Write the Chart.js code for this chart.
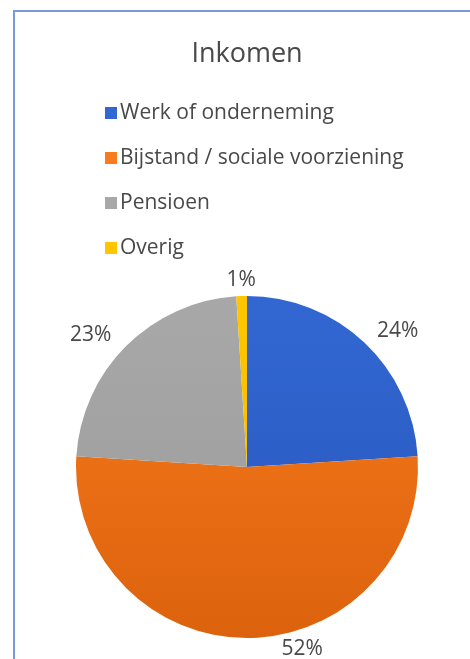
<!DOCTYPE html>
<html>
<head>
<meta charset="utf-8">
<script src="https://cdn.jsdelivr.net/npm/chart.js@4"></script>
<style>
  html, body { margin: 0; padding: 0; background: #fff; overflow: hidden; }
  .frame {
    position: absolute; left: 13px; top: 10px;
    width: 600px; height: 800px;
    border: 2px solid #7899da;
  }
  #chart { position: absolute; left: 0; top: 0; }
</style>
</head>
<body>
<div class="frame"></div>
<canvas id="chart" width="470" height="659"></canvas>
<script>
const title = "Inkomen";
const categories = [
	"Werk of onderneming",
	"Bijstand / sociale voorziening",
	"Pensioen",
	"Overig",
];
const shares = [24, 52, 23, 1];

// light / dark tone per slice, used for the soft top-down shading
const colorsLight = ["#3267d2", "#f87b1c", "#a8a8a8", "#ffc600"];
const colorsDark = ["#2856bc", "#dc620d", "#9b9b9b", "#f0b600"];

const textColor = "#494949";
const fontFamily = "'Open Sans', sans-serif";

function sliceColor(context) {
	const i = context.dataIndex;
	const area = context.chart.chartArea;
	if (!area) {
		return colorsLight[i];
	}
	const g = context.chart.ctx.createLinearGradient(0, area.top, 0, area.bottom);
	g.addColorStop(0, colorsLight[i]);
	g.addColorStop(1, colorsDark[i]);
	return g;
}

// legend as a single left-aligned column above the pie
const columnLegend = {
	id: "columnLegend",
	afterDraw(chart, args, opts) {
		const ctx = chart.ctx;
		ctx.save();
		ctx.font = opts.fontSize + "px " + fontFamily;
		ctx.textBaseline = "middle";
		ctx.textAlign = "left";
		chart.data.labels.forEach((label, i) => {
			const y = opts.top + i * opts.rowHeight;
			ctx.fillStyle = colorsLight[i];
			ctx.fillRect(opts.x, y - opts.box / 2, opts.box, opts.box);
			ctx.fillStyle = textColor;
			ctx.fillText(label, opts.x + opts.box + 3, y);
		});
		ctx.restore();
	},
};

// percentage labels just outside each slice
const outsideLabels = {
	id: "outsideLabels",
	afterDatasetsDraw(chart, args, opts) {
		const ctx = chart.ctx;
		const meta = chart.getDatasetMeta(0);
		const values = chart.data.datasets[0].data;
		ctx.save();
		ctx.font = opts.fontSize + "px " + fontFamily;
		ctx.fillStyle = textColor;
		ctx.textAlign = "center";
		ctx.textBaseline = "middle";
		meta.data.forEach((arc, i) => {
			const p = arc.getProps(["x", "y", "startAngle", "endAngle", "outerRadius"], true);
			const shift = (opts.angleShift[i] || 0) * Math.PI / 180;
			const a = (p.startAngle + p.endAngle) / 2 + shift;
			const text = values[i] + "%";
			const halfW = ctx.measureText(text).width / 2;
			const halfH = opts.fontSize * 0.35;
			const extent = Math.abs(Math.cos(a)) * halfW + Math.abs(Math.sin(a)) * halfH;
			const d = p.outerRadius + opts.gap[i] + extent;
			ctx.fillText(text, p.x + Math.cos(a) * d, p.y + Math.sin(a) * d + 1);
		});
		ctx.restore();
	},
};

const ctx = document.getElementById("chart");
new Chart(ctx, {
	type: "pie",
	data: {
		labels: categories,
		datasets: [
			{
				data: shares,
				backgroundColor: sliceColor,
				borderWidth: 0,
			},
		],
	},
	options: {
		responsive: false,
		animation: false,
		layout: {
			padding: { left: 76, right: 52, top: 0, bottom: 21 },
		},
		plugins: {
			legend: { display: false },
			tooltip: { enabled: false },
			title: {
				display: true,
				text: title,
				color: textColor,
				font: { family: fontFamily, size: 27, weight: "normal" },
				padding: { top: 38, bottom: 225.6 },
			},
			columnLegend: { x: 105, top: 113, rowHeight: 45, box: 12, fontSize: 21 },
			outsideLabels: { fontSize: 21, gap: [12, 5, 14, 9], angleShift: [4.6, -17, -4.5, 0] },
		},
	},
	plugins: [columnLegend, outsideLabels],
});
</script>
</body>
</html>
